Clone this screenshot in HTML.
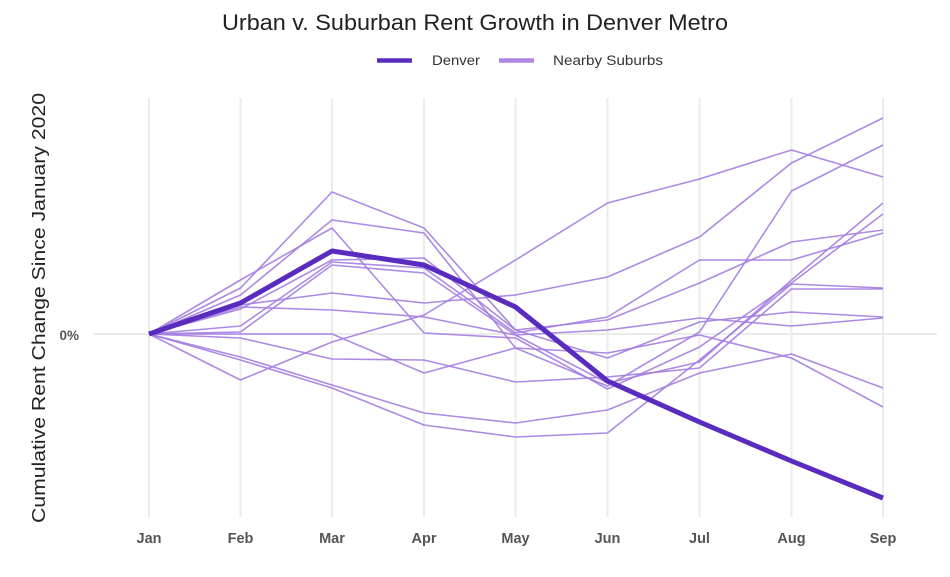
<!DOCTYPE html>
<html>
<head>
<meta charset="utf-8">
<style>
html,body{margin:0;padding:0;background:#fff;}
svg{display:block;}
</style>
</head>
<body>
<svg width="950" height="577" viewBox="0 0 950 577" xmlns="http://www.w3.org/2000/svg">
  <rect width="950" height="577" fill="#ffffff"/>
  <!-- Title -->
  <text x="222" y="30" font-family="Liberation Sans, sans-serif" font-size="22.5" fill="#222" textLength="506" lengthAdjust="spacingAndGlyphs">Urban v. Suburban Rent Growth in Denver Metro</text>
  <!-- Legend -->
  <line x1="377" y1="60.5" x2="412" y2="60.5" stroke="#5a2bbf" stroke-width="4.5"/>
  <text x="432" y="65" font-family="Liberation Sans, sans-serif" font-size="13.5" fill="#333" textLength="48" lengthAdjust="spacingAndGlyphs">Denver</text>
  <line x1="499" y1="60.5" x2="534" y2="60.5" stroke="#ad86e6" stroke-width="4.5"/>
  <text x="553" y="65" font-family="Liberation Sans, sans-serif" font-size="13.5" fill="#333" textLength="110" lengthAdjust="spacingAndGlyphs">Nearby Suburbs</text>

  <!-- Y axis title -->
  <text transform="translate(45,308) rotate(-90)" text-anchor="middle" font-family="Liberation Sans, sans-serif" font-size="18.5" fill="#222" textLength="430" lengthAdjust="spacingAndGlyphs">Cumulative Rent Change Since January 2020</text>
  <text x="79" y="340" text-anchor="end" font-family="Liberation Sans, sans-serif" font-size="13.5" font-weight="bold" fill="#555">0%</text>

  <!-- Grid -->
  <g stroke="#ebebeb" stroke-width="2">
    <line x1="93" y1="334" x2="937" y2="334"/>
    <line x1="149" y1="98" x2="149" y2="517"/>
    <line x1="240.5" y1="98" x2="240.5" y2="517"/>
    <line x1="332" y1="98" x2="332" y2="517"/>
    <line x1="424" y1="98" x2="424" y2="517"/>
    <line x1="515.5" y1="98" x2="515.5" y2="517"/>
    <line x1="607.5" y1="98" x2="607.5" y2="517"/>
    <line x1="699.5" y1="98" x2="699.5" y2="517"/>
    <line x1="791.5" y1="98" x2="791.5" y2="517"/>
    <line x1="883" y1="98" x2="883" y2="517"/>
  </g>

  <!-- X labels -->
  <g font-family="Liberation Sans, sans-serif" font-size="14.5" font-weight="bold" fill="#555" text-anchor="middle">
    <text x="149" y="543">Jan</text>
    <text x="240.5" y="543">Feb</text>
    <text x="332" y="543">Mar</text>
    <text x="424" y="543">Apr</text>
    <text x="515.5" y="543">May</text>
    <text x="607.5" y="543">Jun</text>
    <text x="699.5" y="543">Jul</text>
    <text x="791.5" y="543">Aug</text>
    <text x="883" y="543">Sep</text>
  </g>

  <!-- Suburb lines -->
  <g fill="none" stroke="#a47de0" stroke-width="1.6" stroke-opacity="0.9" stroke-linejoin="round">
    <polyline points="149,334 240.5,380 332,342 424,315 515.5,260 607.5,203 699.5,179 791.5,150 883,177"/>
    <polyline points="149,334 240.5,305 332,293 424,303 515.5,295 607.5,277 699.5,237 791.5,163 883,118"/>
    <polyline points="149,334 240.5,288 332,192 424,228 515.5,330 607.5,358 699.5,322 791.5,312 883,317"/>
    <polyline points="149,334 240.5,295 332,220 424,233 515.5,348 607.5,386 699.5,332 791.5,191 883,145"/>
    <polyline points="149,334 240.5,280 332,228 424,333 515.5,338 607.5,389 699.5,347 791.5,283 883,214"/>
    <polyline points="149,334 240.5,309 332,260 424,258 515.5,330 607.5,320 699.5,283 791.5,242 883,230"/>
    <polyline points="149,334 240.5,326 332,262 424,268 515.5,333 607.5,317 699.5,260 791.5,260 883,233"/>
    <polyline points="149,334 240.5,332 332,265 424,273 515.5,335 607.5,383 699.5,362 791.5,280 883,203"/>
    <polyline points="149,334 240.5,307 332,310 424,317 515.5,335 607.5,330 699.5,318 791.5,326 883,318"/>
    <polyline points="149,334 240.5,334 332,334 424,373 515.5,348 607.5,353 699.5,335 791.5,358 883,407"/>
    <polyline points="149,334 240.5,338 332,359 424,360 515.5,382 607.5,377 699.5,368 791.5,289 883,289"/>
    <polyline points="149,334 240.5,357 332,385 424,413 515.5,423 607.5,410 699.5,373 791.5,354 883,388"/>
    <polyline points="149,334 240.5,360 332,388 424,425 515.5,437 607.5,433 699.5,360 791.5,284 883,288"/>
  </g>

  <!-- Denver -->
  <polyline fill="none" stroke="#5a2bbf" stroke-width="5" stroke-linejoin="round" stroke-linecap="butt"
    points="149,334 240.5,303 332,251 424,265 515.5,307 607.5,381 699.5,422 791.5,461 883,498"/>
</svg>
</body>
</html>
